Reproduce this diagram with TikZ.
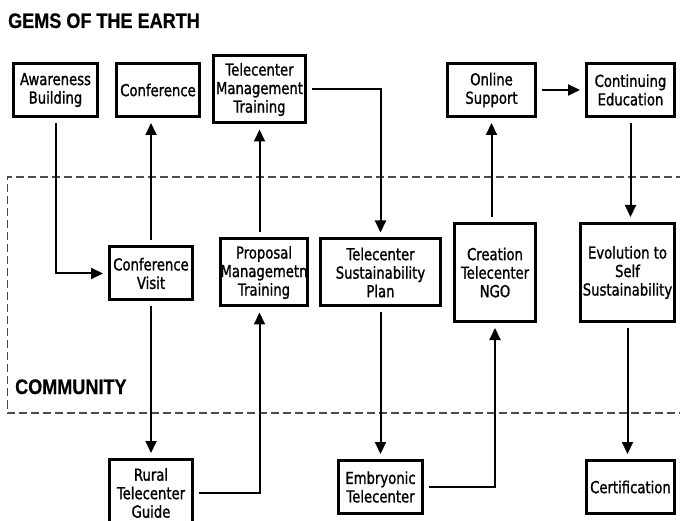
\documentclass[tikz,border=0pt]{standalone}
\usepackage{fontspec}
\newfontfamily\boxfont[FakeStretch=0.8,FakeBold=1.2]{DejaVu Sans}
\newfontfamily\headfont[FakeStretch=0.86,FakeBold=0.6]{Liberation Sans}
\usetikzlibrary{arrows.meta,calc}
\tikzset{
  boxnode/.style = {align=center, inner sep=0pt, text centered, font=\boxfont\fontsize{16.5}{18.5}\selectfont},
  box_s/.style = {boxnode, draw=black, line width=3pt, outer sep=6.5pt, minimum height=53pt},
  box_m/.style = {boxnode, draw=black, line width=3pt, outer sep=6.5pt, minimum height=67pt},
  box_l/.style = {boxnode, draw=black, line width=3pt, outer sep=6.5pt, minimum height=98pt},
  arr/.style = {line width=2pt, -{Triangle[length=12pt,width=11pt]}},
  zone/.style = {draw=black!70, line width=1.5pt, dash pattern=on 8pt off 4pt},
  banner/.style = {anchor=base west, inner sep=0pt, font=\headfont\bfseries\fontsize{21}{24}\selectfont}
}

\begin{document}
\begin{tikzpicture}[x=1pt,y=-1pt]
	\useasboundingbox (0,0) rectangle (680,521);
	\draw [zone] (684,177) -- (7.5,177) -- (7.5,413) -- (684,413);
	\node [banner] (earth) at (8,28) {GEMS OF THE EARTH};
	\node [banner] (community) at (15,394) {COMMUNITY};

	\node [box_s, minimum width=84pt] (aware) at (55.5,90) {Awareness\\Building};
	\node [box_s, minimum width=83pt] (conf) at (158,90) {Conference};
	\node [box_m, minimum width=92pt] (tmt) at (259.5,89.5) {Telecenter\\Management\\Training};
	\node [box_s, minimum width=88pt] (online) at (491.5,90) {Online\\Support};
	\node [box_s, minimum width=88pt] (contedu) at (630.5,90) {Continuing\\Education};

	\node [box_s, minimum width=83pt] (cvisit) at (151,273.5) {Conference\\Visit};
	\node [box_m, minimum width=87pt] (pmt) at (264,272.5) {Proposal\\Managemetn\\Training};
	\node [box_m, minimum width=120pt] (tsp) at (380.5,272.5) {Telecenter\\Sustainability\\Plan};
	\node [box_l, minimum width=81pt] (ngo) at (495,272.5) {Creation\\Telecenter\\NGO};
	\node [box_l, minimum width=94pt] (evol) at (627.5,272.5) {Evolution to\\Self\\Sustainability};

	\node [box_m, minimum width=83pt] (rural) at (151,493) {Rural\\Telecenter\\Guide};
	\node [box_s, minimum width=84pt] (embryo) at (380.5,487) {Embryonic\\Telecenter};
	\node [box_s, minimum width=88pt] (cert) at (630.5,487) {Certification};

	\draw [arr] (aware.south) |- (cvisit.west);
	\draw [arr] (cvisit.north) -- (cvisit.north |- conf.south);
	\draw [arr] (cvisit.south) -- (cvisit.south |- rural.north);
	\draw [arr] (rural.east) -| (pmt.south -| tmt.south);
	\draw [arr] (pmt.north -| tmt.south) -- (tmt.south);
	\draw [arr] (tmt.east) -| (tsp.north);
	\draw [arr] (tsp.south) -- (embryo.north);
	\draw [arr] (embryo.east) -| (ngo.south);
	\draw [arr] (ngo.north -| online.south) -- (online.south);
	\draw [arr] (online.east) -- (contedu.west);
	\draw [arr] (contedu.south) -- (contedu.south |- evol.north);
	\draw [arr] (evol.south) -- (evol.south |- cert.north);
\end{tikzpicture}
\end{document}
